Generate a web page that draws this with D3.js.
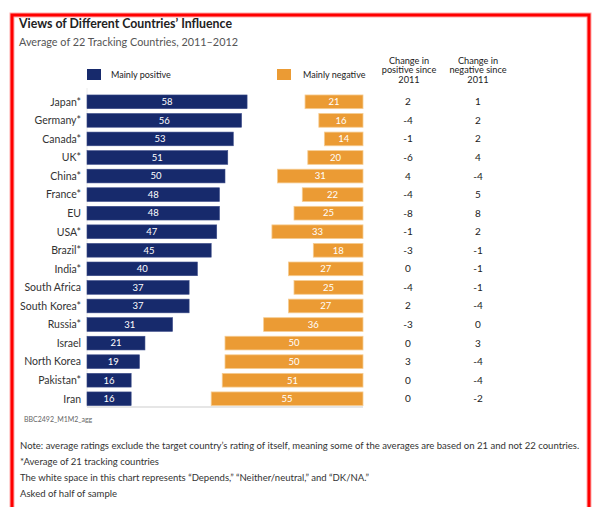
<!DOCTYPE html>
<html>
<head>
<meta charset="utf-8">
<script src="https://cdn.jsdelivr.net/npm/d3@7/dist/d3.min.js"></script>
<style>
  html, body { margin: 0; padding: 0; background: #fff; }
  svg { display: block; font-family: Lato, "Open Sans", "Liberation Sans", sans-serif; }
</style>
</head>
<body>
<svg id="chart" width="600" height="507"></svg>
<script>
const countries = ["Japan*", "Germany*", "Canada*", "UK*", "China*", "France*", "EU", "USA*", "Brazil*", "India*", "South Africa", "South Korea*", "Russia*", "Israel", "North Korea", "Pakistan*", "Iran"];
const positive = [58, 56, 53, 51, 50, 48, 48, 47, 45, 40, 37, 37, 31, 21, 19, 16, 16];
const negative = [21, 16, 14, 20, 31, 22, 25, 33, 18, 27, 25, 27, 36, 50, 50, 51, 55];
const changePositive = [2, -4, -1, -6, 4, -4, -8, -1, -3, 0, -4, 2, -3, 0, 3, 0, 0];
const changeNegative = [1, 2, 2, 4, -4, 5, 8, 2, -1, -1, -1, -4, 0, 3, -4, -4, -2];
const seriesNames = ["Mainly positive", "Mainly negative"];
const colHeaders = [["Change in", "positive since", "2011"], ["Change in", "negative since", "2011"]];
const title = "Views of Different Countries\u2019 Influence";
const subtitle = "Average of 22 Tracking Countries, 2011\u20132012";
const source = "BBC2492_M1M2_agg";
const notes = [
  "Note: average ratings exclude the target country\u2019s rating of itself, meaning some of the averages are based on 21 and not 22 countries.",
  "*Average of 21 tracking countries",
  "The white space in this chart represents \u201cDepends,\u201d \u201cNeither/neutral,\u201d and \u201cDK/NA.\u201d",
  "Asked of half of sample"
];

const NAVY = "#172a6c";
const ORANGE = "#eb9b34";

const svg = d3.select("#chart");

// frame
svg.append("rect").attr("x", 12).attr("y", 15).attr("width", 577).attr("height", 510)
  .attr("fill", "none").attr("stroke", "#ffaaaa").attr("stroke-width", 5);
svg.append("rect").attr("x", 12).attr("y", 15).attr("width", 577).attr("height", 510)
  .attr("fill", "none").attr("stroke", "#ff0000").attr("stroke-width", 3);

// title
svg.append("text").attr("x", 19).attr("y", 28).attr("font-size", 13.5).attr("font-weight", 700)
  .attr("fill", "#222").attr("textLength", 213).attr("lengthAdjust", "spacingAndGlyphs").text(title);
svg.append("text").attr("x", 19).attr("y", 46).attr("font-size", 11.5)
  .attr("fill", "#555").attr("textLength", 219).attr("lengthAdjust", "spacingAndGlyphs").text(subtitle);

const x = d3.scaleLinear().domain([0, 100]).range([87, 363]);
const y = d3.scaleBand().domain(countries).range([90.1, 410.5]).paddingInner(0.262).paddingOuter(0.262);

// axis lines
svg.append("line").attr("x1", x(0)).attr("x2", x(0)).attr("y1", 88).attr("y2", 407)
  .attr("stroke", "#ececec").attr("stroke-width", 1);
svg.append("line").attr("x1", x(0)).attr("x2", x(100)).attr("y1", 407).attr("y2", 407)
  .attr("stroke", "#e6e6e6").attr("stroke-width", 2);

// legend
const legend = [{c: NAVY, x: 87, tx: 111}, {c: ORANGE, x: 277, tx: 303}];
legend.forEach((l, i) => {
  svg.append("rect").attr("x", l.x).attr("y", 69).attr("width", 14).attr("height", 11).attr("fill", l.c);
  svg.append("text").attr("x", l.tx).attr("y", 78).attr("font-size", 9).attr("fill", "#222").text(seriesNames[i]);
});

// column headers
const colX = [409, 478];
colHeaders.forEach((lines, i) => {
  lines.forEach((t, j) => {
    svg.append("text").attr("x", colX[i]).attr("y", 63.5 + j * 9.5).attr("text-anchor", "middle")
      .attr("font-size", 9.2).attr("fill", "#222").text(t);
  });
});

const rows = countries.map((c, i) => ({c, p: positive[i], n: negative[i], cp: changePositive[i], cn: changeNegative[i]}));

const g = svg.append("g");
// labels
g.selectAll("text.lab").data(rows).join("text").attr("class", "lab")
  .attr("x", 81).attr("y", d => y(d.c) + y.bandwidth() / 2 + 3.8)
  .attr("text-anchor", "end").attr("font-size", 10.5).attr("fill", "#333").text(d => d.c);

// positive bars
g.selectAll("rect.pos").data(rows).join("rect").attr("class", "pos")
  .attr("x", x(0)).attr("y", d => y(d.c)).attr("width", d => x(d.p) - x(0)).attr("height", y.bandwidth())
  .attr("fill", NAVY).attr("stroke", "#3a4a88").attr("stroke-width", 0.6);
g.selectAll("text.pv").data(rows).join("text").attr("class", "pv")
  .attr("x", d => (x(0) + x(d.p)) / 2).attr("y", d => y(d.c) + y.bandwidth() / 2 + 3.3)
  .attr("text-anchor", "middle").attr("font-size", 9.5).attr("fill", "#fff").text(d => d.p);

// negative bars
g.selectAll("rect.neg").data(rows).join("rect").attr("class", "neg")
  .attr("x", d => x(100 - d.n)).attr("y", d => y(d.c)).attr("width", d => x(100) - x(100 - d.n)).attr("height", y.bandwidth())
  .attr("fill", ORANGE).attr("stroke", "#f6cc92").attr("stroke-width", 0.8);
g.selectAll("text.nv").data(rows).join("text").attr("class", "nv")
  .attr("x", d => (x(100 - d.n) + x(100)) / 2).attr("y", d => y(d.c) + y.bandwidth() / 2 + 3.3)
  .attr("text-anchor", "middle").attr("font-size", 9.5).attr("fill", "#fff").text(d => d.n);

// change columns
g.selectAll("text.cp").data(rows).join("text").attr("class", "cp")
  .attr("x", colX[0] - 1).attr("y", d => y(d.c) + y.bandwidth() / 2 + 3.5)
  .attr("text-anchor", "middle").attr("font-size", 10).attr("fill", "#222").text(d => d.cp);
g.selectAll("text.cn").data(rows).join("text").attr("class", "cn")
  .attr("x", colX[1]).attr("y", d => y(d.c) + y.bandwidth() / 2 + 3.5)
  .attr("text-anchor", "middle").attr("font-size", 10).attr("fill", "#222").text(d => d.cn);

// source
svg.append("text").attr("x", 24).attr("y", 422).attr("font-size", 7).attr("fill", "#666").text(source);

// notes: fit first line to its width by font size, use same size for the rest
const first = svg.append("text").attr("x", 20).attr("y", 449).attr("font-size", 10).attr("fill", "#333").text(notes[0]);
const natural = first.node().getComputedTextLength();
const noteSize = Math.min(10, 10 * 560 / natural);
first.attr("font-size", noteSize);
notes.slice(1).forEach((t, i) => {
  svg.append("text").attr("x", 20).attr("y", 465 + i * 16).attr("font-size", noteSize).attr("fill", "#333").text(t);
});
</script>
</body>
</html>
